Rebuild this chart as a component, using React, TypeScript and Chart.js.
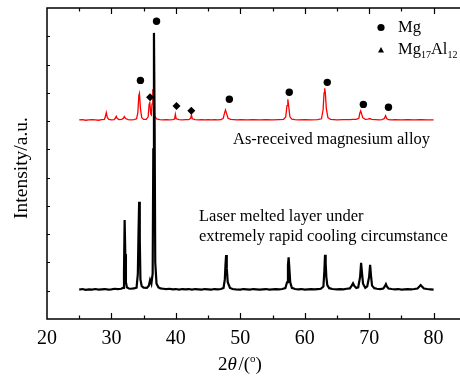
import { useEffect, useRef } from 'react';
import { Chart, registerables } from 'chart.js';
Chart.register(...registerables);

const X_MIN = 20;
const X_MAX = 84.1;
const Y_MIN = 0;
const Y_MAX = 1100;
const xTickValues = [20, 30, 40, 50, 60, 70, 80];
const xTickLabels = ['20', '30', '40', '50', '60', '70', '80'];
const xTitle = '2θ/(°)';
const yTitle = 'Intensity/a.u.';
const redLabel = 'As-received magnesium alloy';
const blackLabel1 = 'Laser melted layer under';
const blackLabel2 = 'extremely rapid cooling circumstance';
const legendMg = 'Mg';

// Laser melted layer pattern (2θ, intensity)
const laserPattern: [number, number][] = [
  [25, 104], [25.5, 106], [26, 103], [26.5, 105], [27, 104], [27.5, 106], [28, 104], [28.5, 105], [29, 106], [29.5, 104],
  [30, 105], [30.5, 107], [31, 106], [31.5, 107], [31.8, 110], [31.95, 170], [32.05, 350], [32.15, 230], [32.25, 130], [32.4, 112],
  [32.7, 108], [33, 107], [33.5, 108], [33.9, 111], [34.1, 160], [34.2, 300], [34.3, 415], [34.4, 280], [34.5, 140], [34.7, 116],
  [35, 111], [35.5, 110], [35.8, 118], [36, 138], [36.2, 125], [36.4, 160], [36.5, 600], [36.6, 1012], [36.7, 700], [36.8, 200],
  [37, 125], [37.3, 112], [37.6, 108], [38, 107], [38.5, 106], [39, 107], [39.5, 105], [40, 106], [40.5, 104], [41, 106],
  [41.5, 105], [42, 106], [42.5, 104], [43, 106], [43.5, 105], [44, 104], [44.5, 106], [45, 105], [45.5, 104], [46, 106],
  [46.5, 105], [47, 106], [47.4, 110], [47.6, 140], [47.7, 190], [47.8, 226], [47.9, 180], [48.05, 130], [48.4, 110], [48.8, 106],
  [49.3, 105], [50, 104], [50.5, 106], [51, 105], [51.5, 104], [52, 106], [52.5, 105], [53, 104], [53.5, 105], [54, 106],
  [54.5, 104], [55, 105], [55.5, 106], [56, 105], [56.5, 106], [57, 109], [57.25, 130], [57.4, 190], [57.5, 218], [57.6, 185],
  [57.75, 130], [58, 110], [58.5, 106], [59, 105], [59.5, 106], [60, 104], [60.5, 105], [61, 106], [61.5, 105], [62, 106],
  [62.5, 107], [62.9, 115], [63.05, 170], [63.15, 227], [63.25, 200], [63.35, 150], [63.5, 120], [63.8, 109], [64.3, 106], [65, 105],
  [65.5, 106], [66, 105], [66.5, 107], [67, 108], [67.3, 118], [67.5, 126], [67.7, 117], [68, 110], [68.3, 112], [68.6, 150],
  [68.75, 199], [68.9, 160], [69.05, 125], [69.4, 110], [69.7, 115], [70.0, 150], [70.15, 192], [70.3, 150], [70.45, 118], [70.8, 109],
  [71.2, 107], [71.7, 106], [72.2, 108], [72.45, 116], [72.6, 123], [72.75, 115], [73, 108], [73.5, 106], [74, 105], [74.5, 106],
  [75, 104], [75.5, 105], [76, 106], [76.5, 105], [77, 106], [77.5, 108], [77.8, 115], [78, 120], [78.2, 115], [78.5, 108],
  [79, 106], [79.5, 105], [80, 104],
];

// As-received magnesium alloy pattern (2θ, intensity, offset)
const receivedPattern: [number, number][] = [
  [25, 704], [25.5, 705], [26, 703], [26.5, 704], [27, 705], [27.5, 704], [28, 703], [28.5, 705], [28.9, 706], [29.05, 715],
  [29.2, 730], [29.35, 713], [29.6, 706], [30, 704], [30.4, 705], [30.6, 710], [30.75, 717], [30.9, 709], [31.2, 705], [31.6, 706],
  [31.85, 710], [32, 716], [32.2, 709], [32.6, 705], [33, 704], [33.5, 705], [33.9, 708], [34.1, 730], [34.25, 790], [34.35, 798],
  [34.5, 745], [34.7, 712], [35, 706], [35.4, 706], [35.7, 715], [35.85, 760], [35.95, 769], [36.1, 725], [36.2, 722], [36.3, 760],
  [36.42, 813], [36.55, 770], [36.7, 718], [37, 708], [37.5, 705], [38, 704], [38.5, 705], [39, 704], [39.5, 705], [39.8, 707],
  [39.92, 724], [40.05, 708], [40.5, 705], [41, 704], [41.5, 705], [42, 705], [42.3, 710], [42.42, 722], [42.55, 708], [43, 705],
  [43.5, 704], [44, 705], [44.5, 704], [45, 705], [45.5, 704], [46, 705], [46.5, 704], [47, 705], [47.35, 710], [47.55, 728],
  [47.7, 739], [47.85, 728], [48.1, 710], [48.5, 706], [49, 705], [49.5, 704], [50, 705], [51, 704], [52, 705], [53, 704],
  [54, 705], [55, 704], [56, 705], [56.7, 706], [57.05, 715], [57.25, 755], [57.38, 777], [57.5, 755], [57.7, 715], [58, 707],
  [58.5, 705], [59, 704], [60, 705], [61, 704], [62, 705], [62.6, 708], [62.85, 740], [63, 800], [63.1, 816], [63.2, 800],
  [63.35, 745], [63.6, 712], [64, 706], [64.5, 705], [65, 704], [66, 705], [67, 705], [67.5, 706], [68, 706], [68.4, 710],
  [68.55, 728], [68.68, 736], [68.8, 728], [69, 712], [69.4, 706], [69.8, 707], [70.1, 709], [70.4, 706], [71, 705], [71.5, 704],
  [72, 705], [72.35, 709], [72.55, 719], [72.72, 709], [73, 705], [73.5, 704], [74, 705], [75, 704], [76, 705], [77, 704],
  [78, 705], [79, 704], [80, 704],
];

// Peak markers
const mgMarkers: [number, number][] = [
  [34.5, 844], [37.0, 1053], [48.3, 777], [57.6, 802], [63.5, 837], [69.1, 759], [73.0, 749],
];
const phaseMarkers: [number, number][] = [
  [36.0, 784], [40.1, 753], [42.4, 737],
];

const SERIF = '"Liberation Serif", "DejaVu Serif", serif';

const decorPlugin = {
  id: 'decor',
  afterDraw(chart: any) {
    const { ctx, chartArea } = chart;
    const { left, top, right, bottom } = chartArea;
    const xs = chart.scales.x;
    const ys = chart.scales.y;
    ctx.save();
    ctx.strokeStyle = '#000';
    ctx.lineWidth = 1.5;
    ctx.beginPath();
    ctx.moveTo(right + 2, top);
    ctx.lineTo(left, top);
    ctx.lineTo(left, bottom);
    ctx.lineTo(right + 2, bottom);
    ctx.stroke();

    ctx.lineWidth = 1.2;
    ctx.beginPath();
    for (let v = 25; v <= 80; v += 5) {
      const px = Math.round(xs.getPixelForValue(v)) + 0.5;
      const len = v % 10 === 0 ? 6 : 3.5;
      ctx.moveTo(px, bottom);
      ctx.lineTo(px, bottom - len);
      ctx.moveTo(px, top);
      ctx.lineTo(px, top + len);
    }
    for (let v = 100; v < Y_MAX; v += 100) {
      const py = Math.round(ys.getPixelForValue(v)) + 0.5;
      ctx.moveTo(left, py);
      ctx.lineTo(left + 3, py);
    }
    ctx.stroke();

    ctx.fillStyle = '#000';
    ctx.font = `20px ${SERIF}`;
    ctx.textAlign = 'center';
    ctx.textBaseline = 'middle';
    xTickValues.forEach((v, i) => {
      ctx.fillText(xTickLabels[i], xs.getPixelForValue(v), 339);
    });

    // x title: 2 θ /( ° )
    const f1 = `19px ${SERIF}`;
    const fi = `italic 19px ${SERIF}`;
    const fs = `11px ${SERIF}`;
    const parts: [string, string, number][] = [
      [xTitle.slice(0, 1), f1, 0],
      [xTitle.slice(1, 2), fi, 0],
      [xTitle.slice(2, 4), f1, 0],
      ['o', fs, -8],
      [xTitle.slice(5, 6), f1, 0],
    ];
    let total = 0;
    parts.forEach(([t, f]) => { ctx.font = f; total += ctx.measureText(t).width + (t === 'θ' ? 1.5 : 0); });
    let cx = 240 - total / 2;
    ctx.textAlign = 'left';
    ctx.textBaseline = 'alphabetic';
    parts.forEach(([t, f, dy]) => {
      ctx.font = f;
      ctx.fillText(t, cx, 370 + dy);
      cx += ctx.measureText(t).width + (t === 'θ' ? 1.5 : 0);
    });

    // y title
    ctx.save();
    ctx.translate(22, 168);
    ctx.rotate(-Math.PI / 2);
    ctx.font = `19.5px ${SERIF}`;
    ctx.textAlign = 'center';
    ctx.textBaseline = 'middle';
    ctx.fillText(yTitle, 0, 0);
    ctx.restore();

    // annotations
    ctx.font = `16.5px ${SERIF}`;
    ctx.textAlign = 'left';
    ctx.textBaseline = 'middle';
    ctx.fillText(redLabel, 233, 140);
    ctx.fillText(blackLabel1, 199, 217);
    ctx.fillText(blackLabel2, 199, 236.5);

    // legend
    ctx.beginPath();
    ctx.arc(381, 27.5, 3.6, 0, Math.PI * 2);
    ctx.fill();
    ctx.beginPath();
    ctx.moveTo(381, 47);
    ctx.lineTo(384, 52.5);
    ctx.lineTo(378, 52.5);
    ctx.closePath();
    ctx.fill();
    ctx.font = `16.5px ${SERIF}`;
    ctx.fillText(legendMg, 398, 28);
    let lx = 398;
    const seg: [string, number, number][] = [['Mg', 16.5, 0], ['17', 10, 5], ['Al', 16.5, 0], ['12', 10, 5]];
    seg.forEach(([t, s, dy]) => {
      ctx.font = `${s}px ${SERIF}`;
      ctx.fillText(t, lx, 50 + dy);
      lx += ctx.measureText(t).width;
    });
    ctx.restore();
  },
};

export default function App() {
  const ref = useRef<HTMLCanvasElement | null>(null);
  useEffect(() => {
    if (!ref.current) return;
    const chart = new Chart(ref.current, {
      type: 'scatter',
      data: {
        datasets: [
          {
            data: mgMarkers.map(([x, y]) => ({ x, y })),
            pointStyle: 'circle',
            pointRadius: 3.7,
            backgroundColor: '#000',
            borderColor: '#000',
            borderWidth: 0,
            showLine: false,
            order: 0,
          },
          {
            data: phaseMarkers.map(([x, y]) => ({ x, y })),
            pointStyle: 'rectRot',
            pointRadius: 4,
            backgroundColor: '#000',
            borderColor: '#000',
            borderWidth: 0,
            showLine: false,
            order: 0,
          },
          {
            data: laserPattern.map(([x, y]) => ({ x, y })),
            showLine: true,
            borderColor: '#000',
            borderWidth: 2.2,
            pointRadius: 0,
            tension: 0,
            order: 1,
          },
          {
            data: receivedPattern.map(([x, y]) => ({ x, y })),
            showLine: true,
            borderColor: '#ff0000',
            borderWidth: 1.3,
            pointRadius: 0,
            tension: 0,
            order: 2,
          },
        ],
      },
      options: {
        responsive: false,
        animation: false,
        devicePixelRatio: 1,
        layout: { autoPadding: false, padding: { left: 47, top: 8, right: 0, bottom: 57 } },
        plugins: { legend: { display: false }, tooltip: { enabled: false } },
        events: [],
        scales: {
          x: { type: 'linear', min: X_MIN, max: X_MAX, display: false },
          y: { type: 'linear', min: Y_MIN, max: Y_MAX, display: false },
        },
      },
      plugins: [decorPlugin],
    });
    return () => chart.destroy();
  }, []);
  return (
    <div style={{ position: 'fixed', left: 0, top: 0, width: 460, height: 376, overflow: 'hidden', background: '#fff' }}>
      <canvas ref={ref} width={460} height={376} style={{ display: 'block' }} />
    </div>
  );
}
